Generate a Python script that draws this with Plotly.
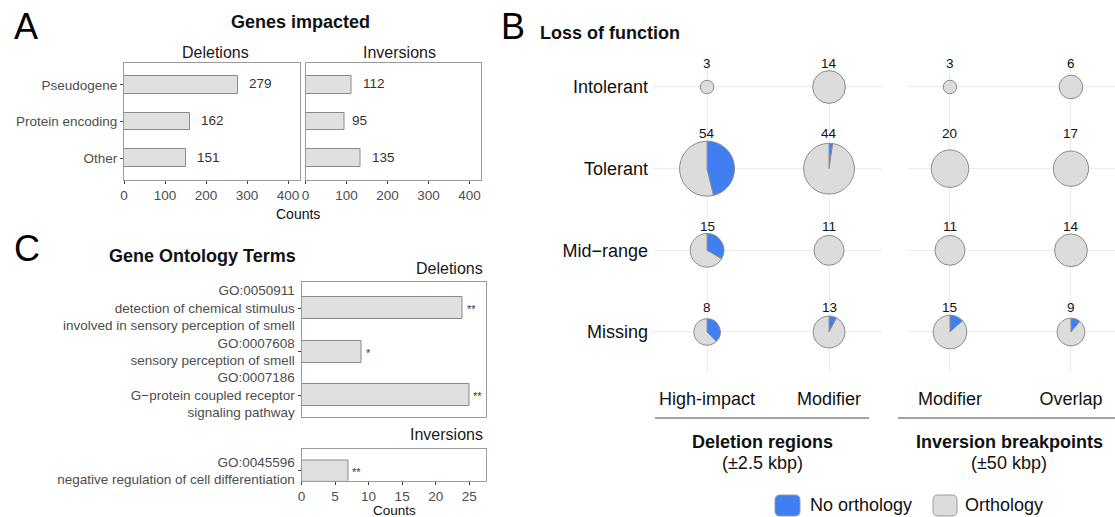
import numpy as np
import plotly.graph_objects as go

W, H = 1115, 517
FONT = "Liberation Sans, Arial, Helvetica, sans-serif"

# ---------------- data ----------------
gene_types = ["Pseudogene", "Protein encoding", "Other"]
genes_deletions = [279, 162, 151]
genes_inversions = [112, 95, 135]
count_ticks_a = [0, 100, 200, 300, 400]

go_del_terms = [
    "GO:0050911<br>detection of chemical stimulus<br>involved in sensory perception of smell",
    "GO:0007608<br>sensory perception of smell",
    "GO:0007186<br>G\u2212protein coupled receptor<br>signaling pathway",
]
go_del_counts = [24, 9, 25]
go_del_stars = ["**", "*", "**"]
go_inv_terms = ["GO:0045596<br>negative regulation of cell differentiation"]
go_inv_counts = [7]
go_inv_stars = ["**"]
count_ticks_c = [0, 5, 10, 15, 20, 25]

lof_rows = ["Intolerant", "Tolerant", "Mid\u2212range", "Missing"]
del_columns = ["High-impact", "Modifier"]
inv_columns = ["Modifier", "Overlap"]
del_totals = [[3, 14], [54, 44], [15, 11], [8, 13]]
del_no_orthology = [[0, 0], [25, 1], [5, 0], [3, 1]]
inv_totals = [[3, 6], [20, 17], [11, 14], [15, 9]]
inv_no_orthology = [[0, 0], [0, 0], [0, 0], [2, 1]]
orthology_labels = ["No orthology", "Orthology"]

# ---------------- styles ----------------
BAR_FILL = "#e0e0e0"
BAR_LINE = "#8a8a8a"
BOX_LINE = "#9a9a9a"
TICK_TXT = "#4d4d4d"
BLUE = "#3f7ff2"
GREY = "#dcdcdc"
PIE_LINE = "#8a8a8a"
GRID = "#ebebeb"


def px(x):
    return x / W


def py(y):
    return 1 - y / H


fig = go.Figure()
annotations = []
shapes = []

# ---------------- Panel A ----------------
rows_a = list(range(len(gene_types)))
for vals, xa, ya in [(genes_deletions, "x", "y"), (genes_inversions, "x2", "y2")]:
    fig.add_trace(go.Bar(x=vals, y=rows_a, orientation="h", width=0.47,
                         marker=dict(color=BAR_FILL, line=dict(color=BAR_LINE, width=1)),
                         xaxis=xa, yaxis=ya, showlegend=False, hoverinfo="x+y"))
    for i, v in enumerate(vals):
        s = str(v)
        annotations.append(dict(x=v, y=i, xref=xa, yref=ya, text=s, showarrow=False,
                                xanchor="center", yanchor="middle",
                                xshift=len(s) * 0.556 * 13.5, yshift=1,
                                font=dict(size=13.5, color="#333333")))

# ---------------- Panel C ----------------
rows_c = list(range(len(go_del_terms)))
fig.add_trace(go.Bar(x=go_del_counts, y=rows_c, orientation="h", width=0.5,
                     marker=dict(color=BAR_FILL, line=dict(color=BAR_LINE, width=1)),
                     xaxis="x3", yaxis="y3", showlegend=False))
fig.add_trace(go.Bar(x=go_inv_counts, y=[0], orientation="h", width=0.5,
                     marker=dict(color=BAR_FILL, line=dict(color=BAR_LINE, width=1)),
                     xaxis="x4", yaxis="y4", showlegend=False))
for vals, stars, xa, ya in [(go_del_counts, go_del_stars, "x3", "y3"),
                            (go_inv_counts, go_inv_stars, "x4", "y4")]:
    for i, (v, s) in enumerate(zip(vals, stars)):
        annotations.append(dict(x=v, y=i, xref=xa, yref=ya, text=s, showarrow=False,
                                xanchor="left", yanchor="middle", xshift=2, yshift=-1,
                                font=dict(size=11, color="#333333")))

# ---------------- Panel B (pies) ----------------
B1_X = (653, 882)
B1_XR = (-0.443, 1.434)
B2_X = (908, 1115)
B2_XR = (-0.347, 1.364)
B_Y = (58, 372)          # top, bottom in px
B_YR = (-0.49, 3.355)
row_vals = [3, 2, 1, 0]

# invisible carriers so the two grid subplots are drawn
for xa, ya in [("x5", "y5"), ("x6", "y6")]:
    fig.add_trace(go.Scatter(x=[0, 1], y=[0, 3], mode="markers", marker=dict(opacity=0),
                             xaxis=xa, yaxis=ya, showlegend=False, hoverinfo="skip"))

all_tot = [t for g in (del_totals, inv_totals) for r in g for t in r]
nmin, nmax = min(all_tot), max(all_tot)


def diam(n):
    return 13.5 + 41.5 * np.sqrt((n - nmin) / (nmax - nmin))


def xpix(v, dom, rng):
    return dom[0] + (v - rng[0]) / (rng[1] - rng[0]) * (dom[1] - dom[0])


def ypix(v):
    return B_Y[1] - (v - B_YR[0]) / (B_YR[1] - B_YR[0]) * (B_Y[1] - B_Y[0])


for ri in range(len(lof_rows)):
    cy = ypix(row_vals[ri])
    row_max = max(max(del_totals[ri]), max(inv_totals[ri]))
    label_y = cy - diam(row_max) / 2 - 7.5
    for totals, noorth, dom, rng in [(del_totals, del_no_orthology, B1_X, B1_XR),
                                     (inv_totals, inv_no_orthology, B2_X, B2_XR)]:
        for ci in range(2):
            tot = totals[ri][ci]
            no = noorth[ri][ci]
            cx = xpix(ci, dom, rng)
            d = diam(tot)
            parts = [(orthology_labels[0], no, BLUE), (orthology_labels[1], tot - no, GREY)]
            parts = [p for p in parts if p[1] > 0]
            fig.add_trace(go.Pie(
                labels=[p[0] for p in parts], values=[p[1] for p in parts],
                marker=dict(colors=[p[2] for p in parts], line=dict(color=PIE_LINE, width=1)),
                sort=False, direction="clockwise", rotation=0, textinfo="none",
                hoverinfo="label+value", showlegend=False,
                domain=dict(x=[px(cx - d / 2), px(cx + d / 2)],
                            y=[py(cy + d / 2), py(cy - d / 2)])))
            annotations.append(dict(x=px(cx), y=py(label_y), xref="paper", yref="paper",
                                    text=str(tot), showarrow=False, xanchor="center",
                                    yanchor="middle", font=dict(size=13.5, color="#111111")))

# ---------------- axes ----------------
box_axis = dict(showline=True, mirror=True, linecolor=BOX_LINE, linewidth=1,
                showgrid=False, zeroline=False, ticks="outside", ticklen=3,
                tickcolor="#444444", tickwidth=1,
                tickfont=dict(size=13.5, color=TICK_TXT))

grid_axis = dict(showline=False, showgrid=True, gridcolor=GRID, gridwidth=1,
                 zeroline=True, zerolinecolor=GRID, zerolinewidth=1, ticks="",
                 tickfont=dict(size=18, color="#111111"))

layout_axes = dict(
    xaxis=dict(box_axis, domain=[px(124), px(299.5)], range=[0, 428], anchor="y",
               tickvals=count_ticks_a),
    yaxis=dict(box_axis, domain=[py(180), py(63)], range=[2.6, -0.6], anchor="x",
               tickvals=rows_a, ticktext=gene_types),
    xaxis2=dict(box_axis, domain=[px(305.5), px(481)], range=[0, 428], anchor="y2",
                tickvals=count_ticks_a),
    yaxis2=dict(box_axis, domain=[py(180), py(63)], range=[2.6, -0.6], anchor="x2",
                tickvals=rows_a, showticklabels=False, ticks=""),
    xaxis3=dict(box_axis, domain=[px(301.5), px(486)], range=[0, 27.5], anchor="y3",
                tickvals=count_ticks_c, showticklabels=False, ticks=""),
    yaxis3=dict(box_axis, domain=[py(417), py(282)], range=[2.5, -0.6], anchor="x3",
                tickvals=rows_c, ticktext=go_del_terms),
    xaxis4=dict(box_axis, domain=[px(301.5), px(486)], range=[0, 27.5], anchor="y4",
                tickvals=count_ticks_c),
    yaxis4=dict(box_axis, domain=[py(480.5), py(448.5)], range=[0.22, -0.52], anchor="x4",
                tickvals=[0], ticktext=go_inv_terms),
    xaxis5=dict(grid_axis, domain=[px(B1_X[0]), px(B1_X[1])], range=list(B1_XR), anchor="y5",
                tickvals=[0, 1], ticktext=del_columns, ticklabelstandoff=14),
    yaxis5=dict(grid_axis, domain=[py(B_Y[1]), py(B_Y[0])], range=list(B_YR), anchor="x5",
                tickvals=row_vals, ticktext=lof_rows, ticklabelstandoff=4),
    xaxis6=dict(grid_axis, domain=[px(B2_X[0]), px(B2_X[1])], range=list(B2_XR), anchor="y6",
                tickvals=[0, 1], ticktext=inv_columns, ticklabelstandoff=14),
    yaxis6=dict(grid_axis, domain=[py(B_Y[1]), py(B_Y[0])], range=list(B_YR), anchor="x6",
                tickvals=row_vals, showticklabels=False),
)

# ---------------- text annotations ----------------
def txt(text, x, y, size, xanchor="center", bold=False, color="#111111", yanchor="middle"):
    if bold:
        text = "<b>" + text + "</b>"
    annotations.append(dict(x=px(x), y=py(y), xref="paper", yref="paper", text=text,
                            showarrow=False, xanchor=xanchor, yanchor=yanchor,
                            font=dict(size=size, color=color)))


txt("A", 12, 27, 36, xanchor="left", color="#000000")
txt("Genes impacted", 300, 22, 18, bold=True)
txt("Deletions", 215, 52, 16, color="#1a1a1a")
txt("Inversions", 399, 52, 16, color="#1a1a1a")
txt("Counts", 298, 214, 14)

txt("C", 12, 248, 36, xanchor="left", color="#000000")
txt("Gene Ontology Terms", 202, 256, 18, bold=True)
txt("Deletions", 485, 268, 16, xanchor="right", color="#1a1a1a")
txt("Inversions", 485, 434, 16, xanchor="right", color="#1a1a1a")
txt("Counts", 394, 501, 13.5, yanchor="top")

txt("B", 499, 27, 36, xanchor="left", color="#000000")
txt("Loss of function", 538, 33, 18, xanchor="left", bold=True)
txt("Deletion regions", 762, 442, 18, bold=True)
txt("(\u00b12.5 kbp)", 762, 463, 18)
txt("Inversion breakpoints", 1009, 442, 18, bold=True)
txt("(\u00b150 kbp)", 1009, 463, 18)
txt("No orthology", 808, 505, 18, xanchor="left")
txt("Orthology", 963, 505, 18, xanchor="left")

# group underline
for x0, x1 in [(655, 869), (898, 1115)]:
    shapes.append(dict(type="line", xref="paper", yref="paper", x0=px(x0), x1=px(x1),
                       y0=py(418), y1=py(418), line=dict(color="#444444", width=1.2)))


def rounded_rect(x0, y0, x1, y1, r):
    rx, ry = r / W, r / H
    X0, X1 = px(x0), px(x1)
    Yt, Yb = py(y0), py(y1)
    return (f"M {X0 + rx},{Yt} L {X1 - rx},{Yt} Q {X1},{Yt} {X1},{Yt - ry} "
            f"L {X1},{Yb + ry} Q {X1},{Yb} {X1 - rx},{Yb} L {X0 + rx},{Yb} "
            f"Q {X0},{Yb} {X0},{Yb + ry} L {X0},{Yt - ry} Q {X0},{Yt} {X0 + rx},{Yt} Z")


for (x0, x1), col in [((775, 800), BLUE), ((933, 957), GREY)]:
    shapes.append(dict(type="path", xref="paper", yref="paper",
                       path=rounded_rect(x0, 495, x1, 516, 5),
                       fillcolor=col, line=dict(color="#9a9a9a", width=1)))

fig.update_layout(
    template="none",
    width=W, height=H,
    margin=dict(l=0, r=0, t=0, b=0),
    paper_bgcolor="white", plot_bgcolor="white",
    font=dict(family=FONT, color="#111111"),
    showlegend=False,
    annotations=annotations,
    shapes=shapes,
    bargap=0,
    **layout_axes,
)

fig.write_html(
    "out.html",
    config={"displayModeBar": False},
    post_script="document.body.style.margin='0';document.body.style.overflow='hidden';",
)
